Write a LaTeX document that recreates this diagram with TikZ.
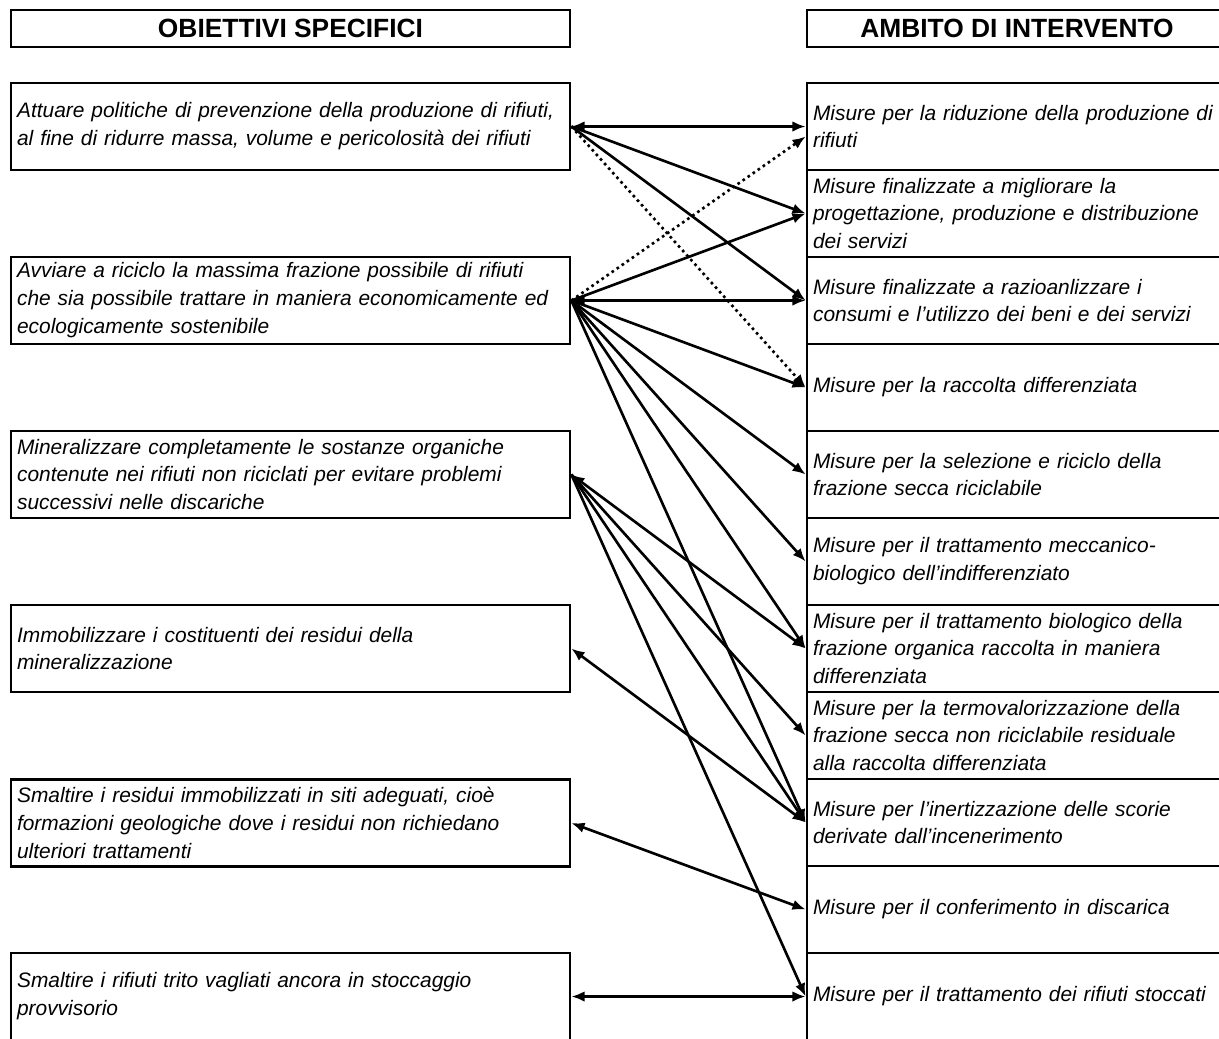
\documentclass[tikz,border=0pt]{standalone}
\usepackage{fontspec}
\setmainfont{Liberation Sans}
\usetikzlibrary{arrows.meta}

\tikzset{
  obj/.style={draw, rectangle, line width=1.6pt, minimum width=11.18cm, minimum height=1.74cm,
    text width=10.94cm, inner xsep=0.12cm, align=left, font=\fontsize{11.9}{15.9}\selectfont\itshape},
  mis/.style={obj, minimum width=8.4cm, text width=8.16cm},
  head/.style={draw, rectangle, line width=1.6pt, minimum height=0.74cm, inner sep=0pt,
    font=\fontsize{15}{17}\selectfont\bfseries},
  link/.style={line width=1.5pt, >={Latex[length=7.5pt,width=6pt]}}
}

\begin{document}
\begin{tikzpicture}[x=0.02cm, y=-0.02cm]
\useasboundingbox (0,0) rectangle (1219,1038);
\clip (0,0) rectangle (1219,1038);

\node[head, minimum width=11.18cm] (ho) at (290.5,28.5) {OBIETTIVI SPECIFICI};
\node[head, minimum width=8.4cm] (hm) at (1017,28.5) {AMBITO DI INTERVENTO};

\node[obj] (o1) at (290.5,126.5) {Attuare politiche di prevenzione della produzione di rifiuti,\\al fine di ridurre massa, volume e pericolosità dei rifiuti};
\node[obj] (o2) at (290.5,300.5) {Avviare a riciclo la massima frazione possibile di rifiuti\\che sia possibile trattare in maniera economicamente ed\\ecologicamente sostenibile};
\node[obj] (o3) at (290.5,474.5) {Mineralizzare completamente le sostanze organiche\\contenute nei rifiuti non riciclati per evitare problemi\\successivi nelle discariche};
\node[obj] (o4) at (290.5,648.5) {Immobilizzare i costituenti dei residui della\\mineralizzazione};
\node[obj] (o5) at (290.5,823) {Smaltire i residui immobilizzati in siti adeguati, cioè\\formazioni geologiche dove i residui non richiedano\\ulteriori trattamenti};
\node[obj] (o6) at (290.5,996.5) {Smaltire i rifiuti trito vagliati ancora in stoccaggio\\provvisorio};

\node[mis] (m1) at (1017,126.5) {Misure per la riduzione della produzione di\\rifiuti};
\node[mis] (m2) at (1017,213.5) {Misure finalizzate a migliorare la\\progettazione, produzione e distribuzione\\dei servizi};
\node[mis] (m3) at (1017,300.5) {Misure finalizzate a razioanlizzare i\\consumi e l'utilizzo dei beni e dei servizi};
\node[mis] (m4) at (1017,387.5) {Misure per la raccolta differenziata};
\node[mis] (m5) at (1017,474.5) {Misure per la selezione e riciclo della\\frazione secca riciclabile};
\node[mis] (m6) at (1017,561.5) {Misure per il trattamento meccanico-\\biologico dell'indifferenziato};
\node[mis] (m7) at (1017,648.5) {Misure per il trattamento biologico della\\frazione organica raccolta in maniera\\differenziata};
\node[mis] (m8) at (1017,735.5) {Misure per la termovalorizzazione della\\frazione secca non riciclabile residuale\\alla raccolta differenziata};
\node[mis] (m9) at (1017,822.5) {Misure per l'inertizzazione delle scorie\\derivate dall'incenerimento};
\node[mis] (m10) at (1017,909.5) {Misure per il conferimento in discarica};
\node[mis] (m11) at (1017,996.5) {Misure per il trattamento dei rifiuti stoccati};

\path
    (o1.east) edge[link, <->] (m1.west)
    (o1.east) edge[link, ->] (m2.west)
    (o1.east) edge[link, ->] (m3.west)
    (o1.east) edge[link, ->, dotted] (m4.west)

    (o2.east) edge[link, ->, dotted] ([yshift=-0.2cm]m1.west)
    (o2.east) edge[link, ->] (m2.west)
    (o2.east) edge[link, <->] (m3.west)
    (o2.east) edge[link, ->] (m4.west)
    (o2.east) edge[link, ->] (m5.west)
    (o2.east) edge[link, ->] (m6.west)
    (o2.east) edge[link, ->] (m7.west)
    (o2.east) edge[link, ->] (m9.west)

    (o3.east) edge[link, <->] (m7.west)
    (o3.east) edge[link, ->] (m8.west)
    (o3.east) edge[link, ->] (m9.west)
    (o3.east) edge[link, ->] (m11.west)

    (o4.east) edge[link, <->] (m9.west)
    (o5.east) edge[link, <->] (m10.west)
    (o6.east) edge[link, <->] (m11.west);
\end{tikzpicture}
\end{document}
